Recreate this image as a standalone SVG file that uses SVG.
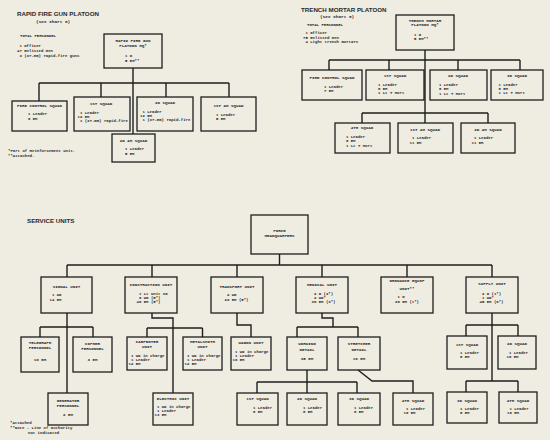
<svg xmlns="http://www.w3.org/2000/svg" width="550" height="440" viewBox="0 0 550 440">
<style>
.bg{fill:#efece2}
.bx{fill:none;stroke:#1e1e1e;stroke-width:1.3}
.ln{fill:none;stroke:#1e1e1e;stroke-width:1.4}
.h{font-family:"Liberation Sans",Arial,sans-serif;font-size:6.2px;font-weight:bold;fill:#2a2a2a}
.s{font-family:"Liberation Mono",monospace;font-size:4.4px;font-weight:bold;fill:#2a2a2a}
.tt{font-family:"Liberation Mono",monospace;font-size:4.2px;font-weight:bold;fill:#2a2a2a;text-anchor:middle}
.t{font-family:"Liberation Mono",monospace;font-size:4px;font-weight:bold;fill:#2a2a2a}
.c{text-anchor:middle}
</style>
<rect class="bg" x="0" y="0" width="550" height="440"/>

<!-- headings and notes -->
<g id="rfg-heading">
<text class="h" x="17" y="16">RAPID FIRE GUN PLATOON</text>
<text class="s" x="36" y="23">(See Chart 8)</text>
<text class="t" x="20" y="37">TOTAL PERSONNEL</text>
<text class="t" x="17" y="47">&#160;1 Officer</text>
<text class="t" x="17" y="52">47 Enlisted men</text>
<text class="t" x="17" y="57">&#160;3 (37-mm) rapid-fire guns</text>
</g>
<g id="rfg-notes">
<text class="t" x="8" y="152">*Part of Reinforcement Unit.</text>
<text class="t" x="8" y="157">**Attached.</text>
</g>
<g id="tm-heading">
<text class="h" x="301" y="12">TRENCH MORTAR PLATOON</text>
<text class="s" x="320" y="18">(See Chart 8)</text>
<text class="t" x="307" y="26">TOTAL PERSONNEL</text>
<text class="t" x="303" y="34">&#160;1 Officer</text>
<text class="t" x="303" y="38.5">75 Enlisted men</text>
<text class="t" x="303" y="43">&#160;4 Light trench mortars</text>
</g>
<g id="su-heading">
<text class="h" x="27" y="223">SERVICE UNITS</text>
</g>
<g id="su-notes">
<text class="t" x="10" y="424">*Attached</text>
<text class="t" x="10" y="429">**Note - Line of authority</text>
<text class="t" x="28" y="433.5">not indicated</text>
</g>

<!-- connectors -->
<g id="connectors" class="ln">
<path d="M133 68V134M39 83H229M39 83V101M101 83V97M166 83V97M229 83V97"/>
<path d="M425 50V123M329 60H520M329 60V70M389 60V70M458 60V70M520 60V70M362 113H488M362 113V123M488 113V123"/>
<path d="M279.5 254V265M67 265H492M67 265V277M152 265V277M237 265V277M322 265V277M407 265V277M492 265V277"/>
<path d="M67 313V393M40 327H93M40 327V337M93 327V337"/>
<path d="M152 313V318H173V393M147 328H202.5M147 328V337M202.5 328V337"/>
<path d="M237 313V325H251V337"/>
<path d="M322 313V318H333V327M297 327H358M297 327V337M358 327V337"/>
<path d="M307 370V382M257 382H357M257 382V393M307 382V393M357 382V393"/>
<path d="M358 370L372 381H413V393"/>
<path d="M492 313V381M466 325H518M466 325V336M518 325V336M466 381H518M466 381V392M518 381V392"/>
</g>

<!-- Rapid fire gun platoon -->
<g id="rfg-hq">
<rect class="bx" x="104" y="34" width="58" height="34"/>
<text class="tt" x="133" y="42">RAPID FIRE GUN</text>
<text class="tt" x="133" y="47">PLATOON HQ*</text>
<text class="t" x="125" y="57">1 O</text>
<text class="t" x="125" y="62">5 EM**</text>
</g>
<g id="rfg-fire-control">
<rect class="bx" x="12" y="101" width="55" height="30"/>
<text class="tt" x="39.5" y="107">FIRE CONTROL SQUAD</text>
<text class="t" x="25.5" y="115">&#160;1 Leader</text>
<text class="t" x="25.5" y="119.5">&#160;6 EM</text>
</g>
<g id="rfg-1st">
<rect class="bx" x="74" y="97" width="56" height="34"/>
<text class="tt" x="101" y="105">1ST SQUAD</text>
<text class="t" x="77.5" y="114">&#160;1 Leader</text>
<text class="t" x="77.5" y="118">12 EM</text>
<text class="t" x="77.5" y="122">&#160;1 (37-mm) rapid-fire</text>
</g>
<g id="rfg-2d">
<rect class="bx" x="137" y="97" width="56" height="34"/>
<text class="tt" x="165" y="104">2D SQUAD</text>
<text class="t" x="140" y="113">&#160;1 Leader</text>
<text class="t" x="140" y="117">12 EM</text>
<text class="t" x="140" y="121">&#160;1 (37-mm) rapid-fire</text>
</g>
<g id="rfg-1st-am">
<rect class="bx" x="201" y="97" width="55" height="34"/>
<text class="tt" x="228.5" y="107">1ST AM SQUAD</text>
<text class="t" x="213.5" y="116">&#160;1 Leader</text>
<text class="t" x="213.5" y="120">&#160;5 EM</text>
</g>
<g id="rfg-2d-am">
<rect class="bx" x="112" y="134" width="43" height="28"/>
<text class="tt" x="133.5" y="142">2D AM SQUAD</text>
<text class="t" x="122.5" y="150">&#160;1 Leader</text>
<text class="t" x="122.5" y="154.5">&#160;5 EM</text>
</g>

<!-- Trench mortar platoon -->
<g id="tm-hq">
<rect class="bx" x="396" y="15" width="58" height="35"/>
<text class="tt" x="425" y="21.5">TRENCH MORTAR</text>
<text class="tt" x="425" y="26">PLATOON HQ*</text>
<text class="t" x="414" y="36">1 O</text>
<text class="t" x="414" y="40">5 EM**</text>
</g>
<g id="tm-fire-control">
<rect class="bx" x="302" y="70" width="60" height="30"/>
<text class="tt" x="332" y="79">FIRE CONTROL SQUAD</text>
<text class="t" x="321.5" y="88">&#160;1 Leader</text>
<text class="t" x="321.5" y="92">&#160;7 EM</text>
</g>
<g id="tm-1st">
<rect class="bx" x="366" y="70" width="58" height="30"/>
<text class="tt" x="395" y="76.5">1ST SQUAD</text>
<text class="t" x="375.5" y="86">&#160;1 Leader</text>
<text class="t" x="375.5" y="90">&#160;8 EM</text>
<text class="t" x="375.5" y="94">&#160;1 Lt T Mort</text>
</g>
<g id="tm-2d">
<rect class="bx" x="430" y="70" width="57" height="30"/>
<text class="tt" x="458" y="76.5">2D SQUAD</text>
<text class="t" x="436.5" y="86">&#160;1 Leader</text>
<text class="t" x="436.5" y="90">&#160;8 EM</text>
<text class="t" x="436.5" y="94.5">&#160;1 Lt T Mort</text>
</g>
<g id="tm-3d">
<rect class="bx" x="491" y="70" width="52" height="30"/>
<text class="tt" x="517" y="76.5">3D SQUAD</text>
<text class="t" x="496" y="86">&#160;1 Leader</text>
<text class="t" x="496" y="90">&#160;8 EM</text>
<text class="t" x="496" y="94">&#160;1 Lt T Mort</text>
</g>
<g id="tm-4th">
<rect class="bx" x="335" y="123" width="55" height="30"/>
<text class="tt" x="362" y="129">4TH SQUAD</text>
<text class="t" x="343.5" y="138">&#160;1 Leader</text>
<text class="t" x="343.5" y="142">&#160;8 EM</text>
<text class="t" x="343.5" y="146.5">&#160;1 Lt T Mort</text>
</g>
<g id="tm-1st-am">
<rect class="bx" x="398" y="123" width="55" height="30"/>
<text class="tt" x="425" y="131">1ST AM SQUAD</text>
<text class="t" x="409.5" y="139">&#160;1 Leader</text>
<text class="t" x="409.5" y="143.5">11 EM</text>
</g>
<g id="tm-2d-am">
<rect class="bx" x="461" y="123" width="54" height="30"/>
<text class="tt" x="488" y="131">2D AM SQUAD</text>
<text class="t" x="471.5" y="139">&#160;1 Leader</text>
<text class="t" x="471.5" y="143.5">11 EM</text>
</g>

<!-- Service units -->
<g id="force-hq">
<rect class="bx" x="251" y="215" width="57" height="39"/>
<text class="tt" x="279.5" y="232">FORCE</text>
<text class="tt" x="279.5" y="237">HEADQUARTERS</text>
</g>
<g id="signal-unit">
<rect class="bx" x="41" y="277" width="51" height="36"/>
<text class="tt" x="66.5" y="288">SIGNAL UNIT</text>
<text class="t" x="49.5" y="296">&#160;1 WO</text>
<text class="t" x="49.5" y="300.5">14 EM</text>
</g>
<g id="construction-unit">
<rect class="bx" x="125" y="277" width="52" height="36"/>
<text class="tt" x="151" y="286">CONSTRUCTION UNIT</text>
<text class="t" x="136.5" y="295">&#160;1 Lt Unit CO</text>
<text class="t" x="136.5" y="299">&#160;6 WO (5*)</text>
<text class="t" x="136.5" y="303">46 EM (5*)</text>
</g>
<g id="transport-unit">
<rect class="bx" x="211" y="277" width="52" height="36"/>
<text class="tt" x="237" y="288">TRANSPORT UNIT</text>
<text class="t" x="224.5" y="296">&#160;2 WO</text>
<text class="t" x="224.5" y="300.5">29 EM (5*)</text>
</g>
<g id="medical-unit">
<rect class="bx" x="296" y="277" width="52" height="36"/>
<text class="tt" x="322" y="286">MEDICAL UNIT</text>
<text class="t" x="311.5" y="295">&#160;2 O (2*)</text>
<text class="t" x="311.5" y="299">&#160;2 WO*</text>
<text class="t" x="311.5" y="303">36 EM (3*)</text>
</g>
<g id="ordnance-unit">
<rect class="bx" x="381" y="277" width="52" height="36"/>
<text class="tt" x="407" y="282">ORDNANCE EQUIP</text>
<text class="tt" x="407" y="290">UNIT**</text>
<text class="t" x="395" y="298">&#160;1 O</text>
<text class="t" x="395" y="302.5">26 EM (1*)</text>
</g>
<g id="supply-unit">
<rect class="bx" x="466" y="277" width="52" height="36"/>
<text class="tt" x="492" y="285">SUPPLY UNIT</text>
<text class="t" x="479.5" y="295">&#160;2 O (1*)</text>
<text class="t" x="479.5" y="299">&#160;1 WO*</text>
<text class="t" x="479.5" y="303">45 EM (6*)</text>
</g>

<g id="telegraph-personnel">
<rect class="bx" x="21" y="337" width="38" height="35"/>
<text class="tt" x="40" y="344">TELEGRAPH</text>
<text class="tt" x="40" y="349">PERSONNEL</text>
<text class="tt" x="40" y="361">10 EM</text>
</g>
<g id="cipher-personnel">
<rect class="bx" x="73" y="337" width="39" height="35"/>
<text class="tt" x="92.5" y="345">CIPHER</text>
<text class="tt" x="92.5" y="350">PERSONNEL</text>
<text class="tt" x="92.5" y="361">3 EM</text>
</g>
<g id="generator-personnel">
<rect class="bx" x="48" y="393" width="40" height="32"/>
<text class="tt" x="68" y="402">GENERATOR</text>
<text class="tt" x="68" y="407">PERSONNEL</text>
<text class="tt" x="68" y="416">2 EM</text>
</g>
<g id="carpenter-unit">
<rect class="bx" x="127" y="337" width="40" height="33"/>
<text class="tt" x="147" y="343">CARPENTER</text>
<text class="tt" x="147" y="348">UNIT</text>
<text class="t" x="128.5" y="357">&#160;1 WO in charge</text>
<text class="t" x="128.5" y="361">&#160;1 Leader</text>
<text class="t" x="128.5" y="365">12 EM</text>
</g>
<g id="metalsmith-unit">
<rect class="bx" x="183" y="337" width="39" height="33"/>
<text class="tt" x="202.5" y="343">METALSMITH</text>
<text class="tt" x="202.5" y="348">UNIT</text>
<text class="t" x="184.5" y="357">&#160;1 WO in charge</text>
<text class="t" x="184.5" y="361">&#160;1 Leader</text>
<text class="t" x="184.5" y="365">12 EM</text>
</g>
<g id="electric-unit">
<rect class="bx" x="153" y="393" width="40" height="32"/>
<text class="tt" x="173" y="400">ELECTRIC UNIT</text>
<text class="t" x="154.5" y="408">&#160;1 WO in charge</text>
<text class="t" x="154.5" y="412">&#160;1 Leader</text>
<text class="t" x="154.5" y="416">13 EM</text>
</g>
<g id="wagon-unit">
<rect class="bx" x="231" y="337" width="40" height="33"/>
<text class="tt" x="251" y="344">WAGON UNIT</text>
<text class="t" x="232.5" y="353">&#160;1 WO in charge</text>
<text class="t" x="232.5" y="357">&#160;1 Leader</text>
<text class="t" x="232.5" y="361">10 EM</text>
</g>
<g id="working-detail">
<rect class="bx" x="287" y="337" width="40" height="33"/>
<text class="tt" x="307" y="345">WORKING</text>
<text class="tt" x="307" y="351">DETAIL</text>
<text class="tt" x="307" y="360">35 EM</text>
</g>
<g id="stretcher-detail">
<rect class="bx" x="338" y="337" width="42" height="33"/>
<text class="tt" x="359" y="345">STRETCHER</text>
<text class="tt" x="359" y="351">DETAIL</text>
<text class="tt" x="359" y="360">10 EM</text>
</g>
<g id="med-1st-squad">
<rect class="bx" x="237" y="393" width="41" height="32"/>
<text class="tt" x="257.5" y="400">1ST SQUAD</text>
<text class="t" x="250.5" y="409">&#160;1 Leader</text>
<text class="t" x="250.5" y="413">&#160;8 EM</text>
</g>
<g id="med-2d-squad">
<rect class="bx" x="287" y="393" width="40" height="32"/>
<text class="tt" x="307" y="400">2D SQUAD</text>
<text class="t" x="300.5" y="409">&#160;1 Leader</text>
<text class="t" x="300.5" y="413">&#160;8 EM</text>
</g>
<g id="med-3d-squad">
<rect class="bx" x="338" y="393" width="42" height="32"/>
<text class="tt" x="359" y="400">3D SQUAD</text>
<text class="t" x="351.5" y="409">&#160;1 Leader</text>
<text class="t" x="351.5" y="413">&#160;8 EM</text>
</g>
<g id="med-4th-squad">
<rect class="bx" x="393" y="393" width="40" height="32"/>
<text class="tt" x="413" y="402">4TH SQUAD</text>
<text class="t" x="403.5" y="410">&#160;1 Leader</text>
<text class="t" x="403.5" y="414">10 EM</text>
</g>
<g id="sup-1st-squad">
<rect class="bx" x="447" y="336" width="40" height="33"/>
<text class="tt" x="467" y="346">1ST SQUAD</text>
<text class="t" x="457.5" y="354">&#160;1 Leader</text>
<text class="t" x="457.5" y="358">&#160;8 EM</text>
</g>
<g id="sup-2d-squad">
<rect class="bx" x="498" y="336" width="38" height="33"/>
<text class="tt" x="517" y="345">2D SQUAD</text>
<text class="t" x="506.5" y="354">&#160;1 Leader</text>
<text class="t" x="506.5" y="358">10 EM</text>
</g>
<g id="sup-3d-squad">
<rect class="bx" x="447" y="392" width="40" height="31"/>
<text class="tt" x="467" y="402">3D SQUAD</text>
<text class="t" x="457.5" y="410">&#160;1 Leader</text>
<text class="t" x="457.5" y="414">&#160;8 EM</text>
</g>
<g id="sup-4th-squad">
<rect class="bx" x="499" y="392" width="38" height="31"/>
<text class="tt" x="518" y="402">4TH SQUAD</text>
<text class="t" x="507" y="410">&#160;1 Leader</text>
<text class="t" x="507" y="414">10 EM</text>
</g>
</svg>
